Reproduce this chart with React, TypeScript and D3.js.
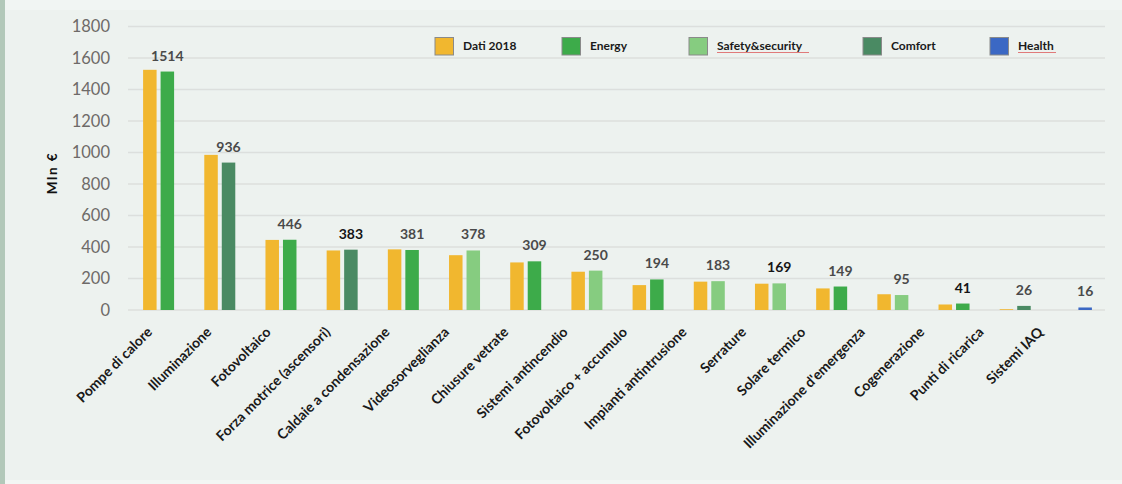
import React from "react";
import * as d3 from "d3";

const categories = [
  "Pompe di calore", "Illuminazione", "Fotovoltaico", "Forza motrice (ascensori)",
  "Caldaie a condensazione", "Videosorveglianza", "Chiusure vetrate", "Sistemi antincendio",
  "Fotovoltaico + accumulo", "Impianti antintrusione", "Serrature", "Solare termico",
  "Illuminazione d'emergenza", "Cogenerazione", "Punti di ricarica", "Sistemi IAQ",
];
const dati2018 = [1525, 985, 445, 378, 385, 348, 302, 243, 158, 180, 167, 137, 100, 35, 5, 0];
const forecast = [1514, 936, 446, 383, 381, 378, 309, 250, 194, 183, 169, 149, 95, 41, 26, 16];
const forecastGroup = [
  "Energy", "Comfort", "Energy", "Comfort", "Energy", "Safety&security", "Energy", "Safety&security",
  "Energy", "Safety&security", "Safety&security", "Energy", "Safety&security", "Energy", "Comfort", "Health",
];
const boldLabels = [383, 169, 41];
const legendItems = ["Dati 2018", "Energy", "Safety&security", "Comfort", "Health"];
const yTicks = [0, 200, 400, 600, 800, 1000, 1200, 1400, 1600, 1800];

const colors: Record<string, string> = {
  "Dati 2018": "#f1b72f",
  Energy: "#3dab4a",
  "Safety&security": "#86cc80",
  Comfort: "#4a8a63",
  Health: "#3b68c4",
};

const W = 1122;
const H = 484;
const FONT = "Lato, 'Open Sans', sans-serif";

export default function App() {
  const x = d3.scaleBand<string>().domain(categories).range([128, 1107]).paddingInner(0).paddingOuter(0);
  const xLabel = d3.scalePoint<string>().domain(categories).range([153, 1044]);
  const y = d3.scaleLinear().domain([0, 1800]).range([310, 26.5]);
  const bw = 13.5;
  const gap = 4;
  const legendX = [435, 562, 689, 863, 990];

  return (
    <svg width={W} height={H} style={{ position: "absolute", left: 0, top: 0 }} fontFamily={FONT}>
      <rect x={0} y={0} width={W} height={H} fill="#edf2ef" />
      <rect x={0} y={0} width={W} height={10} fill="#f1f5f3" />
      <rect x={0} y={480} width={W} height={4} fill="#f3f6f4" />
      <rect x={0} y={0} width={5} height={H} fill="#b2c8b9" />

      {yTicks.map((t) => (
        <g key={t}>
          <line x1={128} x2={1105} y1={y(t)} y2={y(t)} stroke="#dcdfdd" strokeWidth={1.3} />
          <text x={110} y={y(t)} dy="0.36em" textAnchor="end" fontSize={16.5} fill="#6e6a68">
            {t}
          </text>
        </g>
      ))}

      <text
        transform={`translate(57,173) rotate(-90)`}
        textAnchor="middle"
        fontSize={13.5}
        fontWeight="bold"
        letterSpacing={1.5}
        fill="#111"
      >
        Mln €
      </text>

      {categories.map((c, i) => {
        const cx = (x(c) as number) + x.bandwidth() / 2;
        const x1 = cx - gap / 2 - bw;
        const x2 = cx + gap / 2;
        const v1 = dati2018[i];
        const v2 = forecast[i];
        return (
          <g key={c}>
            {v1 > 0 && (
              <rect x={x1} y={y(v1)} width={bw} height={y(0) - y(v1)} fill={colors["Dati 2018"]} />
            )}
            <rect x={x2} y={y(v2)} width={bw} height={y(0) - y(v2)} fill={colors[forecastGroup[i]]} />
            <text
              x={x2 + bw / 2}
              y={y(v2) - 11}
              textAnchor="middle"
              fontSize={14}
              fontWeight="bold"
              fill={boldLabels.includes(v2) ? "#151515" : "#4a4a4a"}
            >
              {v2}
            </text>
            <text
              transform={`translate(${xLabel(c)},${333}) rotate(-45)`}
              textAnchor="end"
              fontSize={14}
              fontWeight="bold"
              fill="#1a1a1a"
            >
              {c}
            </text>
          </g>
        );
      })}

      {legendItems.map((l, i) => {
        const lx = legendX[i];
        const underline = l === "Safety&security" || l === "Health";
        return (
          <g key={l}>
            <rect x={lx} y={37.5} width={18.5} height={17.5} fill={colors[l]} stroke="#8a8a8a" strokeWidth={1} />
            <text x={lx + 28} y={46} dy="0.35em" fontSize={12} fontWeight="bold" fill="#1a1a1a">
              {l}
            </text>
            {underline && (
              <line
                x1={lx + 28}
                x2={lx + 28 + (l === "Health" ? 38 : 92)}
                y1={52.5}
                y2={52.5}
                stroke="#e07a7a"
                strokeWidth={1}
              />
            )}
          </g>
        );
      })}
    </svg>
  );
}
